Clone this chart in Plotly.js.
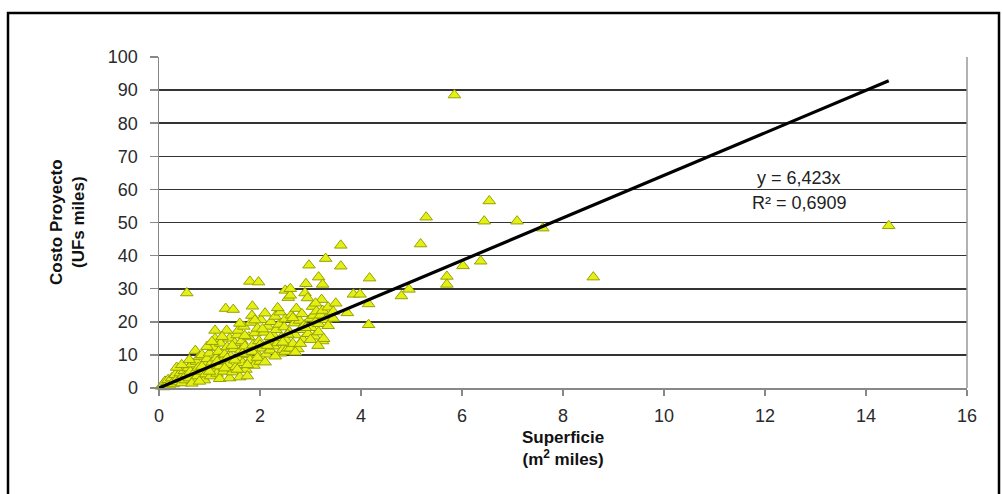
<!DOCTYPE html>
<html>
<head>
<meta charset="utf-8">
<script src="https://cdn.plot.ly/plotly-3.0.1.min.js"></script>
<style>
  html, body { margin: 0; padding: 0; background: #fff; }
  #chart { width: 1002px; height: 494px; }
</style>
</head>
<body>
<div id="chart"></div>
<script>
// Superficie (m² miles) and Costo Proyecto (UFs miles) per project
const superficie = [
  0.05, 0.08, 0.10, 0.12, 0.15, 0.18, 0.20, 0.22, 0.25, 0.28,
  0.30, 0.32, 0.35, 0.38, 0.40, 0.42, 0.45, 0.48, 0.50, 0.52,
  0.55, 0.55, 0.58, 0.60, 0.62, 0.65, 0.68, 0.70, 0.72, 0.74,
  0.76, 0.78, 0.80, 0.82, 0.85, 0.87, 0.90, 0.90, 0.92, 0.95,
  0.98, 1.00, 1.02, 1.05, 1.08, 1.10, 1.11, 1.11, 1.13, 1.15,
  1.18, 1.20, 1.20, 1.22, 1.25, 1.28, 1.30, 1.32, 1.34, 1.35,
  1.37, 1.40, 1.40, 1.42, 1.45, 1.47, 1.48, 1.50, 1.52, 1.55,
  1.57, 1.58, 1.60, 1.62, 1.64, 1.66, 1.68, 1.70, 1.72, 1.75,
  1.75, 1.78, 1.80, 1.80, 1.82, 1.84, 1.85, 1.86, 1.88, 1.90,
  1.92, 1.95, 1.97, 1.98, 2.00, 2.02, 2.05, 2.08, 2.10, 2.12,
  2.15, 2.18, 2.20, 2.22, 2.25, 2.28, 2.30, 2.32, 2.35, 2.38,
  2.40, 2.40, 2.42, 2.45, 2.48, 2.50, 2.50, 2.50, 2.52, 2.55,
  2.56, 2.58, 2.60, 2.60, 2.60, 2.62, 2.65, 2.68, 2.70, 2.72,
  2.75, 2.78, 2.80, 2.83, 2.85, 2.88, 2.89, 2.91, 2.94, 2.95,
  2.97, 3.00, 3.02, 3.04, 3.06, 3.08, 3.10, 3.12, 3.16, 3.16,
  3.16, 3.20, 3.22, 3.24, 3.24, 3.24, 3.26, 3.30, 3.30, 3.35,
  3.40, 3.45, 3.45, 3.50, 3.60, 3.60, 3.73, 3.85, 3.98, 4.15,
  4.15, 4.17, 4.80, 4.95, 5.18, 5.29, 5.70, 5.70, 5.85, 6.02,
  6.37, 6.44, 6.54, 7.09, 7.60, 8.60, 14.45,
  0.35, 0.45, 0.60, 0.65, 0.80, 0.85, 0.95, 1.00, 1.05, 1.15,
  1.25, 1.30, 1.35, 1.45, 1.50, 1.55, 1.60, 1.65, 1.70, 1.75,
  1.85, 1.90, 1.95, 2.00, 2.05, 2.10, 2.15, 2.20, 2.30, 2.35,
  2.45, 2.55, 2.65, 2.70, 2.80, 2.90, 3.00, 3.10, 3.15, 3.35
];
const costo = [
  0.5, 1.2, 0.3, 2.0, 1.0, 2.5, 0.8, 1.6, 3.0, 1.2,
  2.2, 4.0, 1.8, 3.2, 2.5, 4.5, 1.5, 3.8, 5.2, 2.4,
  28.7, 4.2, 6.0, 3.0, 5.0, 7.2, 2.2, 4.6, 11.3, 8.0,
  3.6, 6.2, 9.5, 5.0, 10.0, 3.0, 7.4, 2.4, 4.2, 8.8,
  6.0, 10.5, 3.6, 7.8, 12.2, 5.2, 17.4, 14.9, 9.0, 4.4,
  11.0, 6.6, 2.8, 13.5, 8.2, 5.0, 10.2, 24.0, 17.4, 12.4,
  7.0, 15.0, 3.0, 9.6, 4.8, 23.7, 11.8, 13.6, 6.4, 16.0,
  17.4, 9.0, 3.3, 11.4, 14.2, 7.6, 18.6, 12.6, 5.6, 10.0,
  3.6, 15.4, 32.2, 8.4, 19.8, 21.9, 24.7, 13.0, 6.8, 16.6,
  10.8, 18.0, 32.0, 14.2, 8.0, 20.6, 12.0, 16.8, 22.6, 10.2,
  18.6, 14.0, 11.4, 20.0, 16.2, 12.6, 21.6, 17.6, 13.6, 19.2,
  22.9, 10.5, 15.2, 11.6, 18.4, 29.5, 20.8, 11.0, 14.4, 12.0,
  27.3, 17.0, 28.0, 30.0, 12.0, 22.0, 13.4, 19.6, 16.0, 24.0,
  11.8, 20.4, 17.6, 22.4, 14.6, 19.0, 28.7, 31.5, 27.2, 16.4,
  37.1, 21.0, 18.2, 24.6, 21.9, 15.6, 20.0, 23.2, 33.5, 19.4,
  16.9, 22.0, 26.7, 31.3, 23.4, 14.2, 14.9, 39.1, 20.6, 24.4,
  22.0, 23.1, 21.0, 25.6, 43.1, 36.8, 22.7, 28.3, 28.3, 25.4,
  19.1, 33.2, 27.8, 29.8, 43.5, 51.6, 33.7, 31.3, 88.5, 36.9,
  38.3, 50.4, 56.5, 50.4, 48.3, 33.5, 49.0,
  6.2, 7.0, 8.5, 1.4, 2.0, 6.5, 12.5, 5.0, 14.0, 8.0,
  15.5, 6.0, 9.0, 12.8, 8.4, 5.6, 19.5, 10.4, 15.8, 7.0,
  11.0, 20.5, 9.2, 13.0, 17.8, 7.8, 12.8, 15.5, 9.6, 24.2,
  13.8, 16.2, 21.2, 10.8, 13.4, 18.2, 14.6, 25.6, 12.8, 18.8
];

// Linear trend through the origin
const pendiente = 6.423;
const r2 = 0.6909;
const xTendencia = [0, Math.max(...superficie)];
const yTendencia = xTendencia.map(v => pendiente * v);

const xTicks = [0, 2, 4, 6, 8, 10, 12, 14, 16];
const yTicks = [0, 10, 20, 30, 40, 50, 60, 70, 80, 90, 100];

const fmt = (v, d) => v.toFixed(d).replace('.', ',');

// plot-area geometry in pixels
const W = 1002, H = 494;
const L = 159, R = 35, T = 57, B = 106;
const pw = W - L - R, ph = H - T - B;
const px = p => (p - L) / pw;
const py = p => (H - B - p) / ph;

const FONT = "Arial, 'Liberation Sans', sans-serif";
const TICKFONT = { family: FONT, size: 18, color: '#2a2a2a' };

const traces = [
  {
    x: superficie, y: costo,
    type: 'scatter', mode: 'markers',
    marker: {
      symbol: 'triangle-up', size: 11,
      color: 'rgb(228,240,20)',
      line: { color: 'rgb(150,162,0)', width: 1 }
    },
    hoverinfo: 'x+y', cliponaxis: false
  },
  {
    x: xTendencia, y: yTendencia,
    type: 'scatter', mode: 'lines',
    line: { color: '#000', width: 3.2 },
    hoverinfo: 'skip'
  }
];

const layout = {
  width: W, height: H,
  margin: { l: L, r: R, t: T, b: B },
  paper_bgcolor: '#fff', plot_bgcolor: '#fff',
  showlegend: false,
  font: { family: FONT, size: 18, color: '#222' },
  xaxis: {
    range: [0, 16], tickvals: xTicks, ticktext: xTicks.map(String),
    showgrid: false, zeroline: false,
    showline: true, linecolor: '#888', linewidth: 1.5,
    ticks: 'outside', ticklen: 6, tickcolor: '#888', tickwidth: 1.5,
    ticklabelstandoff: 5,
    tickfont: TICKFONT
  },
  yaxis: {
    range: [0, 100], tickvals: yTicks, ticktext: yTicks.map(String),
    showgrid: true, gridcolor: '#333', gridwidth: 1.6,
    zeroline: false,
    showline: true, linecolor: '#888', linewidth: 1.5,
    ticks: 'outside', ticklen: 8, tickcolor: '#888', tickwidth: 1.5,
    ticklabelstandoff: 8,
    tickfont: TICKFONT
  },
  shapes: [
    // right edge of the plot area
    { type: 'line', xref: 'paper', yref: 'paper', x0: 1, x1: 1, y0: 0, y1: 1,
      line: { color: '#999', width: 1.5 } },
    // outer chart frame
    { type: 'rect', xref: 'paper', yref: 'paper', layer: 'below',
      x0: px(8), x1: px(999), y0: py(520), y1: py(13),
      line: { color: '#000', width: 2.5 } }
  ],
  annotations: [
    { xref: 'paper', yref: 'paper', x: px(799), y: py(178),
      xanchor: 'center', yanchor: 'middle',
      text: 'y = ' + fmt(pendiente, 3) + 'x', showarrow: false,
      font: { family: FONT, size: 18, color: '#222' } },
    { xref: 'paper', yref: 'paper', x: px(799), y: py(203),
      xanchor: 'center', yanchor: 'middle',
      text: 'R² = ' + fmt(r2, 4), showarrow: false,
      font: { family: FONT, size: 18, color: '#222' } },
    { xref: 'paper', yref: 'paper', x: 0.5, y: py(449),
      xanchor: 'center', yanchor: 'middle',
      text: '<b>Superficie</b><br><b>(m<sup>2</sup> miles)</b>', showarrow: false,
      font: { family: FONT, size: 17, color: '#111' } },
    { xref: 'paper', yref: 'paper', x: px(67), y: py(222), textangle: -90,
      xanchor: 'center', yanchor: 'middle',
      text: '<b>Costo Proyecto</b><br><b>(UFs miles)</b>', showarrow: false,
      font: { family: FONT, size: 17, color: '#111' } }
  ]
};

Plotly.newPlot('chart', traces, layout, { displayModeBar: false, staticPlot: true });
</script>
</body>
</html>
